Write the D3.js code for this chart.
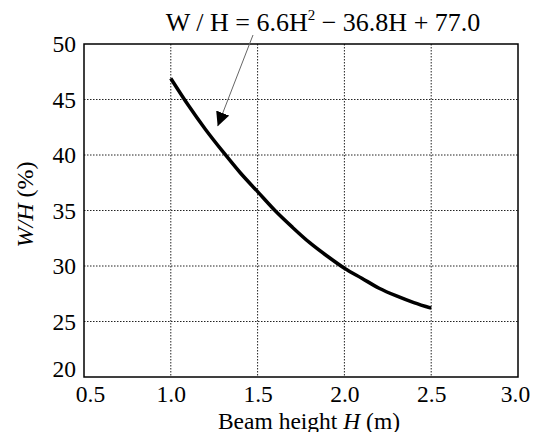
<!DOCTYPE html>
<html>
<head>
<meta charset="utf-8">
<script src="https://cdn.jsdelivr.net/npm/d3@7"></script>
<style>
  body { margin: 0; background: #fff; }
  svg text { font-family: "Liberation Serif", "Times New Roman", serif; fill: #000; }
</style>
</head>
<body>
<div id="chart"></div>
<script>
// Data
var beamHeight = [1.0, 1.1, 1.2, 1.3, 1.4, 1.5, 1.6, 1.7, 1.8, 1.9, 2.0, 2.1, 2.2, 2.3, 2.4, 2.5];
var ratioWH = [46.9, 44.5, 42.3, 40.3, 38.4, 36.7, 35.0, 33.5, 32.1, 30.9, 29.8, 28.9, 28.0, 27.3, 26.7, 26.2];
var xTicks = [0.5, 1.0, 1.5, 2.0, 2.5, 3.0];
var yTicks = [20, 25, 30, 35, 40, 45, 50];

var width = 541, height = 432;
var margin = {top: 44, right: 23, bottom: 55, left: 84};
var innerW = width - margin.left - margin.right;
var innerH = height - margin.top - margin.bottom;

var svg = d3.select('#chart').append('svg')
  .attr('width', width)
  .attr('height', height);

var x = d3.scaleLinear().domain([0.5, 3.0]).range([0, innerW]);
var y = d3.scaleLinear().domain([20, 50]).range([innerH, 0]);

var g = svg.append('g')
  .attr('transform', 'translate(' + margin.left + ',' + margin.top + ')');

// Grid lines (dotted)
g.append('g')
  .attr('class', 'grid')
  .selectAll('line')
  .data(xTicks.slice(1, -1))
  .join('line')
    .attr('x1', d => x(d)).attr('x2', d => x(d))
    .attr('y1', 0).attr('y2', innerH);
g.append('g')
  .attr('class', 'grid')
  .selectAll('line')
  .data(yTicks.slice(1, -1))
  .join('line')
    .attr('x1', 0).attr('x2', innerW)
    .attr('y1', d => y(d)).attr('y2', d => y(d));
g.selectAll('.grid line')
  .attr('stroke', '#222')
  .attr('stroke-width', 1)
  .attr('stroke-dasharray', '1.5,1.5');

// Axes (labels only)
var xAxis = g.append('g')
  .attr('transform', 'translate(0,' + innerH + ')')
  .call(d3.axisBottom(x).tickValues(xTicks).tickFormat(d3.format('.1f')).tickSize(0).tickPadding(8));
var yAxis = g.append('g')
  .call(d3.axisLeft(y).tickValues(yTicks).tickFormat(d3.format('d')).tickSize(0).tickPadding(8));
[xAxis, yAxis].forEach(function(a) {
  a.select('.domain').remove();
  a.attr('font-size', null).attr('font-family', null);
  a.selectAll('text')
    .style('font-family', '"Liberation Serif", serif')
    .style('font-size', '23.5px')
    .attr('fill', '#000');
});
xAxis.selectAll('text').attr('dy', '0.72em');
// the corner labels are pushed apart so they don't collide (as in the original)
yAxis.selectAll('.tick').filter(d => d === 20).select('text').attr('y', -8);
xAxis.selectAll('.tick').filter(d => d === 0.5).select('text').attr('x', 6);
xAxis.selectAll('.tick').filter(d => d === 3.0).select('text').attr('x', -3);

// Frame
g.append('rect')
  .attr('width', innerW)
  .attr('height', innerH)
  .attr('fill', 'none')
  .attr('stroke', '#000')
  .attr('stroke-width', 1.5);

// Curve
var line = d3.line()
  .x((d, i) => x(beamHeight[i]))
  .y(d => y(d))
  .curve(d3.curveMonotoneX);
g.append('path')
  .datum(ratioWH)
  .attr('d', line)
  .attr('fill', 'none')
  .attr('stroke', '#000')
  .attr('stroke-width', 3.5);

// Axis titles
var xt = svg.append('text')
  .attr('x', margin.left + innerW / 2 + 8)
  .attr('y', 428.5)
  .attr('text-anchor', 'middle')
  .style('font-size', '23.5px');
xt.append('tspan').text('Beam height ');
xt.append('tspan').style('font-style', 'italic').text('H');
xt.append('tspan').text(' (m)');

var yt = svg.append('text')
  .attr('transform', 'translate(33,' + (margin.top + innerH / 2 - 6) + ') rotate(-90)')
  .attr('text-anchor', 'middle')
  .style('font-size', '24px');
yt.append('tspan').style('font-style', 'italic').text('W/H');
yt.append('tspan').text(' (%)');

// Equation annotation with arrow
var eq = svg.append('text')
  .attr('x', 323)
  .attr('y', 31)
  .attr('text-anchor', 'middle')
  .style('font-size', '26px');
eq.append('tspan').text('W / H = 6.6H');
eq.append('tspan').attr('dy', -11).style('font-size', '15px').text('2');
eq.append('tspan').attr('dy', 11).text(' \u2212 36.8H + 77.0');

svg.append('defs').append('marker')
  .attr('id', 'arrowhead')
  .attr('viewBox', '0 0 10 10')
  .attr('refX', 10).attr('refY', 5)
  .attr('markerWidth', 14).attr('markerHeight', 14)
  .attr('markerUnits', 'userSpaceOnUse')
  .attr('orient', 'auto')
  .append('path')
    .attr('d', 'M0,0 L10,5 L0,10 Z')
    .attr('fill', '#000');

// arrow from the text down to the curve near H = 1.25
svg.append('line')
  .attr('x1', 253).attr('y1', 35)
  .attr('x2', margin.left + x(1.27)).attr('y2', margin.top + y(42.6))
  .attr('stroke', '#666')
  .attr('stroke-width', 1)
  .attr('marker-end', 'url(#arrowhead)');
</script>
</body>
</html>
